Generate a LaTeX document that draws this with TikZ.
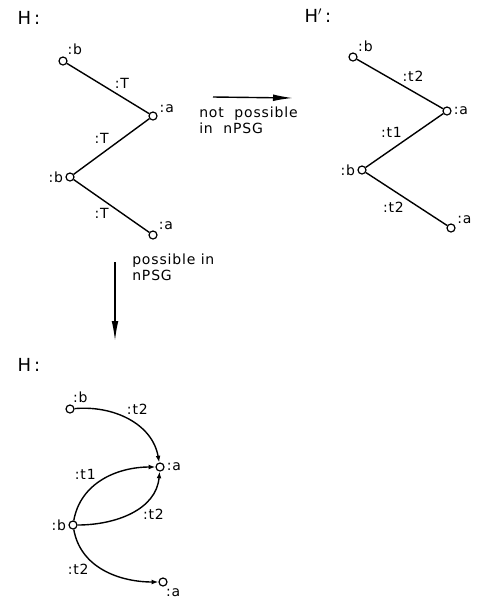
\documentclass[tikz,border=0pt]{standalone}
\usepackage{fontspec}
\setmainfont{DejaVu Sans}[LetterSpace=6]
\usetikzlibrary{arrows.meta}

\begin{document}
\begin{tikzpicture}[x=0.75pt,y=0.75pt,font=\fontsize{10.5}{12}\selectfont,
  vx/.style={circle,draw,line width=0.9pt,inner sep=0pt,minimum size=6pt,fill=white},
  lab/.style={inner sep=1.5pt},
  title/.style={font=\fontsize{13.5}{15}\selectfont},
  ed/.style={line width=1.05pt},
  tip/.style={ed,-{Latex[length=5pt,width=3.6pt]}},
  bigtip/.style={ed,-{Latex[length=15pt,width=5pt]}}]
  \useasboundingbox (0,0) rectangle (480,-601);
  % graph H, top left
  \node[title] (hh) at (29,-18) {H\,:};
  \node[vx,label={[lab]60:{:b}}] (hb1) at (63,-61) {};
  \node[vx,label={[lab]15:{:a}}] (ha1) at (153,-116) {};
  \node[vx,label={[lab]180:{:b}}] (hb2) at (70,-177) {};
  \node[vx,label={[lab]40:{:a}}] (ha2) at (153,-235) {};
  \draw[ed] (hb1) -- node[lab,above right,pos=0.55] (ht1) {:T} (ha1);
  \draw[ed] (ha1) -- node[lab,above left] (ht2) {:T} (hb2);
  \draw[ed] (hb2) -- node[lab,below left] (ht3) {:T} (ha2);
  % graph H', top right
  \node[title] (hp) at (318,-16) {H$^{\prime}$\,:};
  \node[vx,label={[lab]50:{:b}}] (pb1) at (353,-57) {};
  \node[vx,label={[lab]0:{:a}}] (pa1) at (447,-111) {};
  \node[vx,label={[lab]180:{:b}}] (pb2) at (362,-170) {};
  \node[vx,label={[lab]25:{:a}}] (pa2) at (451,-228) {};
  \draw[ed] (pb1) -- node[lab,above right] (pt1) {:t2} (pa1);
  \draw[ed] (pa1) -- node[lab,above left] (pt2) {:t1} (pb2);
  \draw[ed] (pb2) -- node[lab,below left] (pt3) {:t2} (pa2);
  % not possible
  \coordinate (ns) at (213,-97);
  \coordinate (ne) at (293,-98);
  \draw[bigtip] (ns) -- (ne);
  \node[lab,anchor=north west,align=left] (nt) at (197,-105) {not\ \ possible\\in\ \ nPSG};
  % possible
  \coordinate (vs) at (115,-262);
  \coordinate (ve) at (115,-341);
  \draw[bigtip] (vs) -- (ve);
  \node[lab,anchor=north west,align=left] (vt) at (130,-252) {possible in\\nPSG};
  % graph H, bottom
  \node[title] (bh) at (29,-365) {H\,:};
  \node[vx,label={[lab]80:{:b}}] (bb1) at (70,-409) {};
  \node[vx,label={[lab]0:{:a}}] (ba1) at (160,-467) {};
  \node[vx,label={[lab]180:{:b}}] (bb2) at (73,-525) {};
  \node[vx,label={[lab]-80:{:a}}] (ba2) at (163,-582) {};
  \draw[tip] (bb1) to[out=5,in=100] node[lab,pos=0.45,above right] (bt1) {:t2} (ba1);
  \draw[tip] (bb2) to[out=80,in=180] node[lab,pos=0.45,above left] (bt2) {:t1} (ba1);
  \draw[tip] (bb2) to[out=0,in=-95] node[lab,pos=0.6,below right] (bt3) {:t2} (ba1);
  \draw[tip] (bb2) to[out=-80,in=180] node[lab,pos=0.35,below left] (bt4) {:t2} (ba2);
\end{tikzpicture}
\end{document}
